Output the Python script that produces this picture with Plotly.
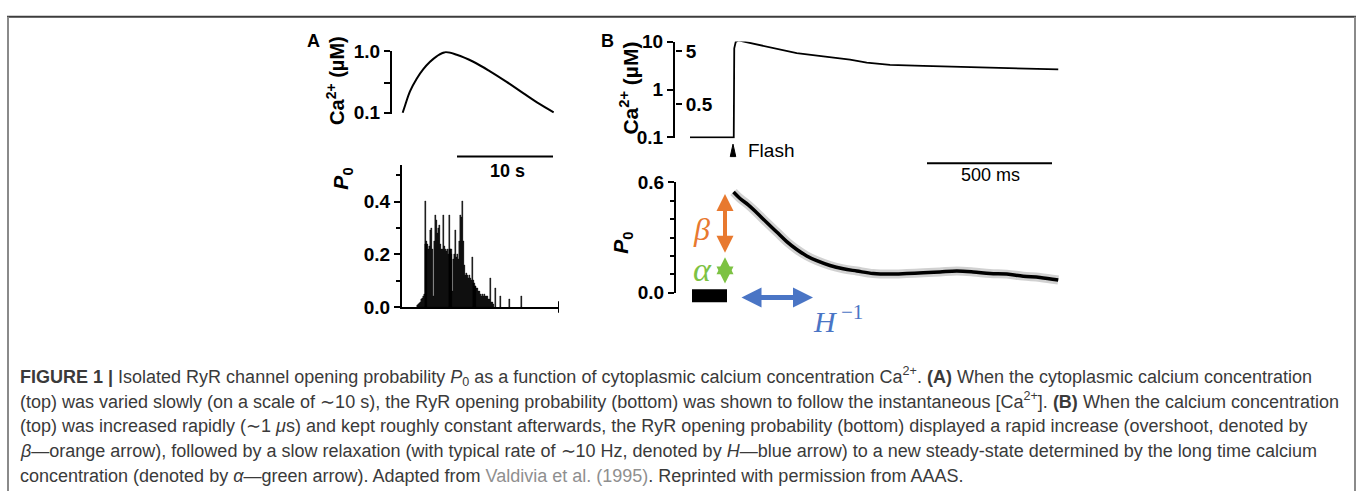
import plotly.graph_objects as go

W, H = 1357, 502


def px(x):
    return x / W


def py(y):
    return 1 - y / H


# ---------------- data ----------------
# Panel A, top: cytoplasmic Ca2+ (uM) vs time (s)
a_ca_time_s = [0.07, 0.31, 0.83, 1.53, 2.22, 2.92, 3.61, 4.48, 5.70, 7.43, 9.17, 10.9, 12.7, 14.1, 15.8]
a_ca_um = [0.099, 0.129, 0.221, 0.356, 0.51, 0.673, 0.826, 0.965, 0.875, 0.673, 0.47, 0.316, 0.203, 0.145, 0.101]

# Panel A, bottom: opening probability P0 vs time (s)
a_po_time_s = [1.6, 1.7, 1.8, 1.9, 2.0, 2.1, 2.2, 2.3, 2.4, 2.5, 2.6, 2.7, 2.8, 2.9,
               3.0, 3.1, 3.2, 3.3, 3.4, 3.5, 3.6, 3.7, 3.8, 3.9, 4.0, 4.1, 4.2, 4.3,
               4.4, 4.5, 4.6, 4.7, 4.8, 4.9, 5.0, 5.1, 5.2, 5.3, 5.4, 5.5, 5.6, 5.7,
               5.8, 5.9, 6.0, 6.1, 6.2, 6.3, 6.4, 6.5, 6.6, 6.7, 6.8, 6.9, 7.0, 7.1,
               7.2, 7.3, 7.4, 7.5, 7.6, 7.7, 7.8, 7.9, 8.0, 8.1, 8.2, 8.3, 8.4, 8.5,
               8.6, 8.7, 8.8, 8.9, 9.0, 9.1, 9.2, 9.3, 9.4, 9.5, 9.7, 10.3, 11.15, 12.45]
a_po_value = [0.005, 0.01, 0.015, 0.02, 0.03, 0.035, 0.04, 0.05, 0.40, 0.24, 0.25, 0.24, 0.22, 0.23,
              0.29, 0.30, 0.22, 0.04, 0.25, 0.35, 0.33, 0.28, 0.30, 0.31, 0.24, 0.22, 0.22, 0.35,
              0.23, 0.22, 0.21, 0.22, 0.20, 0.35, 0.22, 0.22, 0.20, 0.06, 0.18, 0.20, 0.29, 0.19,
              0.20, 0.18, 0.25, 0.35, 0.34, 0.40, 0.25, 0.16, 0.12, 0.13, 0.12, 0.11, 0.12, 0.11,
              0.10, 0.19, 0.10, 0.09, 0.08, 0.08, 0.07, 0.07, 0.06, 0.06, 0.05, 0.04, 0.05, 0.04,
              0.05, 0.04, 0.04, 0.04, 0.03, 0.03, 0.11, 0.02, 0.02, 0.01, 0.07, 0.04, 0.03, 0.04]

# Panel B, top: Ca2+ (uM) vs time (ms), flash at t = 0
b_ca_time_ms = [-172, 3, 5, 11, 21, 95, 175, 255, 361, 468, 535, 628, 761, 895, 1028, 1161, 1301]
b_ca_um = [0.1, 0.1, 7.24, 9.86, 10.6, 8.71, 7.01, 5.75, 4.94, 4.23, 3.63, 3.27, 3.12, 2.98, 2.88, 2.79, 2.63]

# Panel B, bottom: P0 vs time (ms)
b_pre_time_ms = [-164, -24]
b_pre_po = [-0.017, -0.017]
b_po_time_ms = [2, 28, 61, 95, 135, 175, 215, 255, 295, 335, 388, 441, 495, 561, 628, 695,
                761, 828, 895, 961, 1028, 1095, 1161, 1228, 1301]
b_po = [0.548, 0.513, 0.478, 0.435, 0.382, 0.330, 0.278, 0.235, 0.200, 0.174, 0.148, 0.130,
        0.118, 0.104, 0.101, 0.104, 0.108, 0.113, 0.118, 0.113, 0.104, 0.101, 0.090, 0.083, 0.069]

# annotation arrows (beta: overshoot, alpha: steady state, H^-1: relaxation time)
beta_range = [0.537, 0.209]
alpha_range = [0.193, 0.042]
h_range_ms = [28, 320]
arrow_t_ms = -32
h_level = -0.026

# tick labels
a_top_ticks = [0.1, 0.3, 1.0]
a_top_ticktext = ["0.1", "", "1.0"]
a_bot_ticks = [0.0, 0.2, 0.4]
a_bot_ticktext = ["0.0", "0.2", "0.4"]
b_top_ticks = [0.1, 1, 10]
b_top_ticktext = ["0.1", "1", "10"]
b_top_right_ticks = [0.5, 5]
b_top_right_ticktext = ["0.5", "5"]
b_bot_ticks = [0.0, 0.6]
b_bot_ticktext = ["0.0", "0.6"]

ORANGE = "#E8792F"
GREEN = "#7DC243"
BLUE = "#4A75C5"
SANS = "Liberation Sans, Arial, sans-serif"
SERIF = "Liberation Serif, Times New Roman, serif"
CAP = "#3a3a3a"

fig = go.Figure()

# Panel A traces
fig.add_trace(go.Scatter(x=a_ca_time_s, y=a_ca_um, mode="lines", line=dict(color="black", width=2, shape="spline"),
                         xaxis="x", yaxis="y", hoverinfo="skip"))
fig.add_trace(go.Bar(x=a_po_time_s, y=a_po_value, width=0.11, marker=dict(color="black", line=dict(color="black", width=0.4)),
                     xaxis="x2", yaxis="y2", hoverinfo="skip"))

# Panel B traces
fig.add_trace(go.Scatter(x=b_ca_time_ms, y=b_ca_um, mode="lines", line=dict(color="black", width=1.8),
                         xaxis="x3", yaxis="y3", hoverinfo="skip"))
fig.add_trace(go.Scatter(x=[], y=[], xaxis="x3", yaxis="y5", showlegend=False))
fig.add_trace(go.Scatter(x=[], y=[], xaxis="x4", yaxis="y4", showlegend=False))
fig.add_trace(go.Scatter(x=b_pre_time_ms, y=b_pre_po, mode="lines", line=dict(color="black", width=13),
                         xaxis="x4", yaxis="y6", hoverinfo="skip"))
fig.add_trace(go.Scatter(x=b_po_time_ms, y=b_po, mode="lines", line=dict(color="rgba(0,0,0,0.18)", width=9, shape="spline"),
                         xaxis="x4", yaxis="y6", hoverinfo="skip"))
fig.add_trace(go.Scatter(x=b_po_time_ms, y=b_po, mode="lines", line=dict(color="black", width=3.5, shape="spline"),
                         xaxis="x4", yaxis="y6", hoverinfo="skip"))

tickfont = dict(family=SANS, size=19, color="black", weight="bold")
common_y = dict(showline=True, linecolor="black", linewidth=2, ticks="outside", ticklen=6, tickwidth=2,
                tickcolor="black", showgrid=False, zeroline=False, tickfont=tickfont)
hidden = dict(visible=False, showgrid=False, zeroline=False)

fig.update_layout(
    width=W, height=H, margin=dict(l=0, r=0, t=0, b=0),
    paper_bgcolor="white", plot_bgcolor="white", showlegend=False,
    xaxis=dict(domain=[px(392), px(560)], range=[-1.042, 16.458], **hidden),
    yaxis=dict(domain=[py(108.3), py(43)], type="log", range=[-1.02, 0], anchor="x",
               tickvals=a_top_ticks, ticktext=a_top_ticktext, **common_y),
    xaxis2=dict(domain=[px(402), px(559)], range=[0, 16.35], anchor="y2", showline=True, linecolor="black",
                linewidth=2, ticks="", showticklabels=False, showgrid=False, zeroline=False),
    yaxis2=dict(domain=[py(310), py(162)], range=[0, 0.538], anchor="x2",
                tickvals=a_bot_ticks, ticktext=a_bot_ticktext,
                minor=dict(tickvals=[0.1, 0.3, 0.5], ticks="outside", ticklen=4, tickwidth=2, tickcolor="black"),
                **common_y),
    xaxis3=dict(domain=[px(675), px(1062)], range=[-232, 1316], anchor="y3", **hidden),
    yaxis3=dict(domain=[py(134), py(33)], type="log", range=[-1.02, 1], anchor="x3",
                tickvals=b_top_ticks, ticktext=b_top_ticktext, **common_y),
    yaxis5=dict(overlaying="y3", side="right", anchor="free", position=px(675), type="log",
                range=[-0.9556, 0.8808], showline=False, ticks="outside", ticklen=6, tickwidth=2,
                tickcolor="black", tickvals=b_top_right_ticks, ticktext=b_top_right_ticktext,
                showgrid=False, zeroline=False, tickfont=tickfont),
    xaxis4=dict(domain=[px(676), px(1062)], range=[-228, 1316], anchor="y4", **hidden),
    yaxis4=dict(domain=[py(295), py(180)], range=[0, 0.6], anchor="x4",
                tickvals=b_bot_ticks, ticktext=b_bot_ticktext,
                minor=dict(tickvals=[0.1, 0.2, 0.3, 0.4, 0.5], ticks="outside", ticklen=4, tickwidth=2,
                           tickcolor="black"),
                **common_y),
    yaxis6=dict(domain=[py(320), py(175)], range=[-0.1304, 0.6261], anchor="x4", **hidden),
    bargap=0,
)

shapes = []
# frame
shapes.append(dict(type="line", xref="paper", yref="paper", x0=px(7), x1=px(1356), y0=py(7), y1=py(7),
                   line=dict(color="#3c3c3c", width=2)))
shapes.append(dict(type="line", xref="paper", yref="paper", x0=px(8), x1=px(8), y0=py(7), y1=0,
                   line=dict(color="#8a8a8a", width=2)))
shapes.append(dict(type="line", xref="paper", yref="paper", x0=px(1355), x1=px(1355), y0=py(7), y1=0,
                   line=dict(color="#8a8a8a", width=2)))
# scale bars
shapes.append(dict(type="line", xref="x", yref="paper", x0=5.73, x1=15.73, y0=py(153), y1=py(153),
                   line=dict(color="black", width=2)))
shapes.append(dict(type="line", xref="x3", yref="paper", x0=776, x1=1276, y0=py(160), y1=py(160),
                   line=dict(color="black", width=2)))
# end tick on A-bottom time axis
shapes.append(dict(type="line", xref="x2", yref="paper", x0=16.35, x1=16.35, y0=py(304), y1=py(316),
                   line=dict(color="black", width=2)))
# flash marker
shapes.append(dict(type="path", xref="x3", yref="paper",
                   path=f"M -11,{py(153)} L 11,{py(153)} L 0,{py(140)} Z",
                   fillcolor="black", line=dict(color="black", width=1)))
fig.update_layout(shapes=shapes)

ann = []


def text(x, y, t, size=19, color="black", family=SANS, weight="normal", angle=0, xanchor="center"):
    ann.append(dict(x=px(x), y=py(y), xref="paper", yref="paper", text=t, showarrow=False,
                    xanchor=xanchor, yanchor="middle", textangle=angle,
                    font=dict(family=family, size=size, color=color, weight=weight)))


text(313, 32, "A", 18, weight="bold")
text(607, 32, "B", 18, weight="bold")
text(336, 74, "Ca<sup>2+</sup> (µM)", 20, weight="bold", angle=-90)
text(629, 82, "Ca<sup>2+</sup> (µM)", 21, weight="bold", angle=-90)
text(342, 176, "<i>P</i><sub>0</sub>", 21, weight="bold", angle=-90)
text(622, 243, "<i>P</i><sub>0</sub>", 21, weight="bold", angle=-90)
text(507, 168, "10 s", 18, weight="bold")
text(991, 172, "500 ms", 18)
text(746, 147, "Flash", 19, xanchor="left")
text(701, 229, "<i>β</i>", 32, color=ORANGE, family=SERIF)
text(702, 271, "<i>α</i>", 34, color=GREEN, family=SERIF)
text(838, 322, "<i>H</i><sup> −1</sup>", 30, color=BLUE, family=SERIF)

# arrows
for (y0, y1, col) in [(beta_range[0], beta_range[1], ORANGE), (alpha_range[0], alpha_range[1], GREEN)]:
    ann.append(dict(x=arrow_t_ms, y=y0, ax=arrow_t_ms, ay=y1, xref="x4", yref="y6", axref="x4", ayref="y6",
                    text="", showarrow=True, arrowhead=2, arrowside="end+start", arrowwidth=4,
                    arrowsize=0.85, arrowcolor=col))
ann.append(dict(x=h_range_ms[1], y=h_level, ax=h_range_ms[0], ay=h_level, xref="x4", yref="y6", axref="x4",
                ayref="y6", text="", showarrow=True, arrowhead=2, arrowside="end+start", arrowwidth=5,
                arrowsize=0.8, arrowcolor=BLUE))

caption_lines = [
    "<b>FIGURE 1 |</b> Isolated RyR channel opening probability <i>P</i><sub>0</sub> as a function of cytoplasmic calcium concentration Ca<sup>2+</sup>. <b>(A)</b> When the cytoplasmic calcium concentration",
    "(top) was varied slowly (on a scale of ∼10 s), the RyR opening probability (bottom) was shown to follow the instantaneous [Ca<sup>2+</sup>]. <b>(B)</b> When the calcium concentration",
    "(top) was increased rapidly (∼1 <i>μ</i>s) and kept roughly constant afterwards, the RyR opening probability (bottom) displayed a rapid increase (overshoot, denoted by",
    "<i>β</i>—orange arrow), followed by a slow relaxation (with typical rate of ∼10 Hz, denoted by <i>H</i>—blue arrow) to a new steady-state determined by the long time calcium",
    "concentration (denoted by <i>α</i>—green arrow). Adapted from <span style='color:#8f8f8f'>Valdivia et al. (1995)</span>. Reprinted with permission from AAAS.",
]
caption_y = [382, 408, 434, 460, 486]
for t, yy in zip(caption_lines, caption_y):
    text(18, yy, t, 18, color=CAP, xanchor="left")

fig.update_layout(annotations=ann)
fig.write_html("out.html")
